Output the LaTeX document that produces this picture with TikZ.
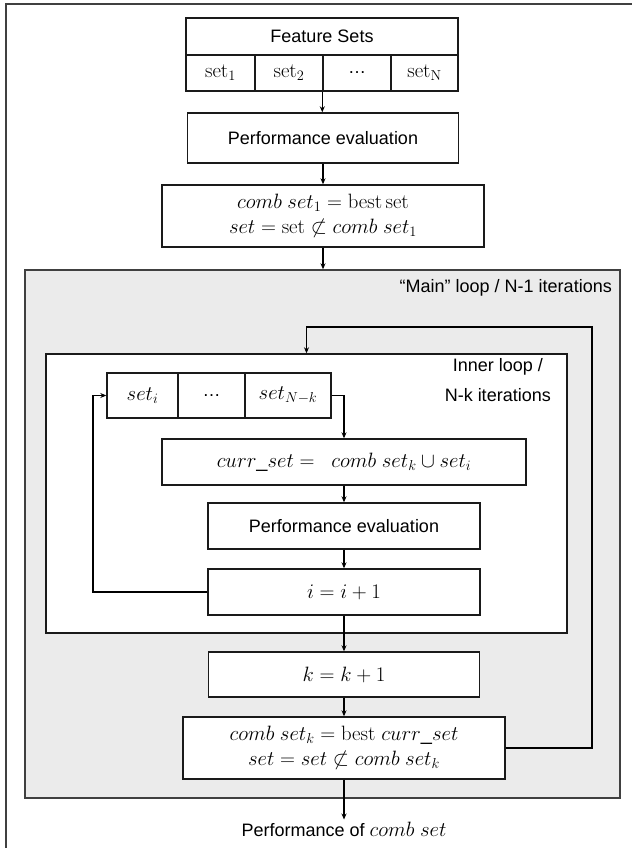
\documentclass[tikz,border=0pt]{standalone}
\usepackage[no-math]{fontspec}
\setmainfont{Liberation Sans}
\usetikzlibrary{arrows.meta}
\definecolor{greyfill}{HTML}{EBEBEB}
\definecolor{edge}{HTML}{1A1A1A}
\definecolor{frameedge}{HTML}{404040}
\begin{document}
\begin{tikzpicture}[x=1pt,y=-1pt,
  txt/.style={font=\fontsize{18pt}{22pt}\selectfont},
  box/.style={draw=edge, line width=1.4pt, fill=white, rectangle, inner sep=0pt, align=center,
              font=\fontsize{18pt}{22pt}\selectfont},
  mbox/.style={box, font=\fontsize{20pt}{25pt}\selectfont},
  arr/.style={draw=black, line width=1.4pt, -{Stealth[length=6pt,width=5pt]}},
]
\useasboundingbox (0,0) rectangle (632,848);
% outer frame (right and bottom edges lie outside the picture)
\draw[frameedge, line width=1.4pt] (6,848) -- (6,4) -- (632,4);

% Feature table
\node[box, minimum width=272, minimum height=37] (fs) at (322,36.5) {Feature Sets};
\node[mbox, minimum width=69, minimum height=36] (c1) at (220.5,73) {$\mathrm{set}_1$};
\node[mbox, minimum width=68, minimum height=36] (c2) at (289,73) {$\mathrm{set}_2$};
\node[box, minimum width=68, minimum height=36] (c3) at (357,73) {…};
\node[mbox, minimum width=67, minimum height=36] (c4) at (424.5,73) {$\mathrm{set}_\mathrm{N}$};

\node[box, minimum width=271, minimum height=50] (pe1) at (323,138) {Performance evaluation};
\node[mbox, minimum width=322, minimum height=62] (b3) at (323,216)
  {$comb\ set_1 = \mathrm{best\,set}$\\$set = \mathrm{set} \not\subset comb\ set_1$};

% main loop
\node[draw=frameedge, line width=1.4pt, fill=greyfill, minimum width=595, minimum height=528, inner sep=0pt]
  (main) at (322.5,534) {};
\node[txt, anchor=east, inner sep=0pt] (mainlbl) at (612,288) {``Main'' loop / N-1 iterations};

% inner loop
\node[draw=edge, line width=1.4pt, fill=white, minimum width=521, minimum height=279, inner sep=0pt]
  (inner) at (306.5,493.5) {};
\node[anchor=east, align=center, inner sep=0pt, font=\fontsize{18pt}{30pt}\selectfont]
  (innerlbl) at (551,380) {Inner loop /\\N-k iterations};

\node[mbox, minimum width=71, minimum height=45] (t1) at (142.5,395.5) {$set_i$};
\node[box, minimum width=67, minimum height=45] (t2) at (211.5,395.5) {…};
\node[mbox, minimum width=86, minimum height=45] (t3) at (288,395.5) {$set_{N-k}$};

\node[mbox, minimum width=364, minimum height=46] (cs) at (344,462)
  {$curr\_set =\ \ comb\ set_k \cup set_i$};
\node[box, minimum width=272, minimum height=46] (pe2) at (344,526) {Performance evaluation};
\node[mbox, minimum width=272, minimum height=46] (ii) at (344,592) {$i = i + 1$};

\node[mbox, minimum width=271, minimum height=45] (kk) at (344,674.5) {$k = k + 1$};
\node[mbox, minimum width=322, minimum height=62] (fb) at (344,748)
  {$comb\ set_k = \mathrm{best}\; curr\_set$\\$set = set \not\subset comb\ set_k$};

\node[txt, inner sep=2pt] (outlbl) at (344,829) {Performance of {\fontsize{20pt}{23pt}\selectfont$comb\ set$}};

% connectors
\draw[arr] (c3.south west) -- (c3.south west |- pe1.north);
\draw[arr] (pe1.south) -- (b3.north);
\draw[arr] (b3.south) -- (b3.south |- main.north);
\coordinate (fbc) at (592,327);
\draw[arr] (fb.east) -| (fbc) -| (inner.north);
\coordinate (lc) at (93,592);
\draw[arr] (ii.west) -- (lc) |- (t1.west);
\draw[arr] (t3.east) -| (cs.north);
\draw[arr] (cs.south) -- (pe2.north);
\draw[arr] (pe2.south) -- (ii.north);
\draw[arr] (ii.south) -- (kk.north);
\draw[arr] (kk.south) -- (fb.north);
\draw[arr] (fb.south) -- (outlbl.north);
\end{tikzpicture}
\end{document}
